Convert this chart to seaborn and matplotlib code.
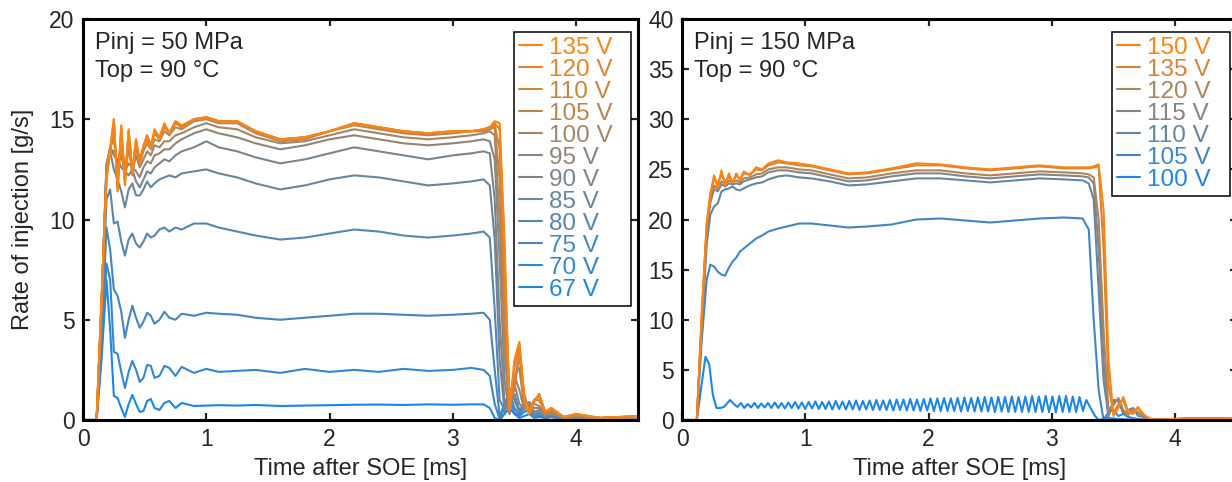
import numpy as np
import matplotlib
matplotlib.use("Agg")
import matplotlib.pyplot as plt
import seaborn as sns
from matplotlib.colors import LinearSegmentedColormap

# ── Style ────────────────────────────────────────────────────────────────────
sns.set_theme(style="ticks")
plt.rcParams["font.family"] = ["Liberation Sans", "DejaVu Sans"]

# ── Data: left panel (Pinj = 50 MPa) ─────────────────────────────────────────
T_LEFT = [0.00, 0.11, 0.15, 0.19, 0.22, 0.25, 0.28, 0.31, 0.34, 0.37,
          0.40, 0.43, 0.46, 0.49, 0.52, 0.55, 0.58, 0.62, 0.66, 0.70,
          0.75, 0.80, 0.90, 1.00, 1.10, 1.25, 1.40, 1.60, 1.80, 2.00,
          2.20, 2.40, 2.60, 2.80, 3.00, 3.15, 3.25, 3.30, 3.34, 3.38,
          3.42, 3.46, 3.50, 3.54, 3.58, 3.62, 3.66, 3.70, 3.75, 3.80,
          3.90, 4.00, 4.20, 4.50]

L135 = [0, 0, 6.0, 12.0, 13.5, 15.0, 11.4, 14.7, 11.7, 14.5,
        12.4, 14.0, 12.9, 13.7, 14.2, 13.6, 14.5, 14.1, 14.8, 14.3,
        14.9, 14.7, 15.0, 15.1, 14.9, 14.9, 14.4, 14.0, 14.1, 14.4,
        14.8, 14.6, 14.4, 14.3, 14.4, 14.4, 14.5, 14.6, 14.9, 14.8,
        9.0, 0.5, 3.0, 3.9, 1.0, 0.3, 0.9, 1.3, 0.4, 0.6,
        0.15, 0.3, 0.1, 0.2]
L120 = [0, 0, 6.0, 12.0, 13.4, 15.0, 11.5, 14.6, 11.8, 14.4,
        12.3, 14.0, 12.8, 13.6, 14.2, 13.7, 14.4, 14.1, 14.7, 14.3,
        14.9, 14.6, 15.0, 15.1, 14.9, 14.9, 14.4, 14.0, 14.1, 14.4,
        14.8, 14.6, 14.4, 14.3, 14.4, 14.4, 14.5, 14.6, 14.8, 14.5,
        8.0, 0.8, 2.6, 3.8, 1.0, 0.3, 0.9, 1.3, 0.4, 0.6,
        0.15, 0.3, 0.1, 0.2]
L110 = [0, 0, 6.0, 12.2, 13.4, 14.8, 11.6, 14.4, 12.0, 14.3,
        12.3, 13.8, 12.9, 13.6, 14.0, 13.6, 14.3, 14.0, 14.6, 14.3,
        14.8, 14.6, 15.0, 15.1, 14.9, 14.9, 14.4, 14.0, 14.1, 14.4,
        14.8, 14.6, 14.4, 14.3, 14.4, 14.4, 14.5, 14.6, 14.7, 13.5,
        7.0, 1.0, 1.5, 3.6, 1.3, 0.4, 1.0, 1.2, 0.4, 0.5,
        0.15, 0.25, 0.1, 0.2]
L105 = [0, 0, 5.8, 12.4, 13.5, 14.6, 11.8, 14.2, 12.2, 14.0,
        12.2, 13.6, 12.8, 13.4, 13.8, 13.5, 14.0, 13.9, 14.4, 14.2,
        14.6, 14.5, 14.9, 15.0, 14.8, 14.8, 14.3, 13.9, 14.0, 14.4,
        14.7, 14.5, 14.3, 14.2, 14.3, 14.4, 14.4, 14.5, 14.6, 12.0,
        5.0, 0.6, 1.8, 3.2, 1.0, 0.5, 1.0, 1.0, 0.35, 0.45,
        0.15, 0.25, 0.1, 0.15]
L100 = [0, 0, 5.8, 12.6, 13.6, 14.0, 12.4, 13.8, 12.0, 13.6,
        12.4, 13.2, 12.6, 13.0, 13.4, 13.2, 13.7, 13.6, 13.9, 13.9,
        14.2, 14.3, 14.6, 14.8, 14.6, 14.5, 14.1, 13.8, 13.9, 14.2,
        14.5, 14.3, 14.1, 14.0, 14.1, 14.2, 14.3, 14.4, 14.2, 10.0,
        3.5, 0.3, 2.2, 2.6, 0.6, 0.8, 0.8, 0.7, 0.3, 0.4,
        0.1, 0.2, 0.1, 0.15]
L95 = [0, 0, 5.6, 12.8, 13.5, 13.4, 12.8, 13.2, 12.4, 12.8,
       12.6, 12.4, 12.1, 12.6, 12.9, 12.8, 13.2, 13.3, 13.5, 13.5,
       13.8, 14.0, 14.3, 14.5, 14.3, 14.1, 13.8, 13.5, 13.7, 14.0,
       14.2, 14.0, 13.8, 13.7, 13.8, 13.9, 14.0, 13.9, 13.0, 8.0,
       2.0, 0.3, 2.2, 1.5, 0.5, 0.9, 0.6, 0.6, 0.25, 0.35,
       0.1, 0.15, 0.1, 0.15]
L90 = [0, 0, 5.5, 12.6, 13.6, 13.2, 13.0, 12.6, 12.4, 12.2,
       12.5, 11.9, 11.6, 12.0, 12.4, 12.3, 12.6, 12.8, 13.0, 12.9,
       13.2, 13.4, 13.6, 13.9, 13.6, 13.4, 13.1, 12.8, 13.0, 13.3,
       13.6, 13.4, 13.2, 13.0, 13.2, 13.3, 13.4, 13.3, 11.0, 5.0,
       0.8, 0.4, 1.8, 0.8, 0.6, 0.9, 0.4, 0.5, 0.2, 0.3,
       0.1, 0.1, 0.1, 0.15]
L85 = [0, 0, 5.2, 12.5, 13.4, 12.5, 12.0, 11.4, 10.6, 11.5,
       11.8, 11.2, 11.2, 11.5, 11.9, 11.6, 11.8, 12.0, 12.1, 12.2,
       12.1, 12.3, 12.4, 12.5, 12.3, 12.1, 11.8, 11.5, 11.7, 12.0,
       12.2, 12.1, 11.9, 11.7, 11.8, 11.9, 12.0, 11.7, 9.0, 3.0,
       0.4, 1.2, 1.3, 0.5, 0.8, 0.7, 0.3, 0.4, 0.2, 0.25,
       0.1, 0.1, 0.1, 0.15]
L80 = [0, 0, 4.5, 11.0, 11.5, 9.8, 9.9, 8.9, 8.2, 9.0,
       9.3, 8.8, 8.6, 8.9, 9.3, 9.1, 9.2, 9.5, 9.6, 9.4,
       9.6, 9.5, 9.8, 9.8, 9.6, 9.4, 9.2, 9.0, 9.1, 9.3,
       9.5, 9.4, 9.2, 9.1, 9.2, 9.3, 9.4, 9.1, 5.5, 1.0,
       0.5, 1.6, 1.0, 0.4, 0.8, 0.6, 0.2, 0.3, 0.15, 0.2,
       0.05, 0.1, 0.1, 0.15]
L75 = [0, 0, 3.8, 9.6, 8.5, 6.5, 6.2, 5.4, 4.1, 5.0,
       5.7, 5.1, 4.6, 4.9, 5.35, 5.2, 4.8, 5.0, 5.4, 5.1,
       5.0, 5.3, 5.2, 5.35, 5.3, 5.25, 5.1, 5.0, 5.1, 5.2,
       5.3, 5.3, 5.25, 5.2, 5.25, 5.3, 5.35, 5.0, 2.5, 0.2,
       0.8, 1.4, 0.6, 0.3, 0.6, 0.6, 0.2, 0.3, 0.1, 0.2,
       0.05, 0.1, 0.1, 0.15]
L70 = [0, 0, 3.3, 7.8, 7.0, 3.4, 3.3, 2.4, 1.6, 2.4,
       2.95, 2.5, 1.9, 2.1, 2.75, 2.7, 2.1, 2.2, 2.7, 2.6,
       2.2, 2.65, 2.35, 2.55, 2.4, 2.45, 2.5, 2.35, 2.55, 2.4,
       2.5, 2.4, 2.55, 2.45, 2.5, 2.6, 2.5, 2.2, 0.8, 0.05,
       0.6, 1.0, 0.4, 0.2, 0.4, 0.5, 0.15, 0.25, 0.1, 0.15,
       0.05, 0.1, 0.1, 0.15]
L67 = [0, 0, 3.0, 7.0, 4.5, 1.2, 1.1, 0.6, 0.15, 0.8,
       1.25, 0.8, 0.4, 0.45, 0.95, 1.05, 0.6, 0.5, 0.85, 0.95,
       0.6, 0.85, 0.7, 0.72, 0.74, 0.72, 0.75, 0.7, 0.72, 0.74,
       0.76, 0.77, 0.75, 0.78, 0.76, 0.78, 0.78, 0.6, 0.1, 0.0,
       0.3, 0.6, 0.3, 0.1, 0.2, 0.3, 0.1, 0.15, 0.1, 0.15,
       0.05, 0.1, 0.1, 0.15]

LEFT_LABELS = ["135 V", "120 V", "110 V", "105 V", "100 V", "95 V",
               "90 V", "85 V", "80 V", "75 V", "70 V", "67 V"]
LEFT_VALUES = [L135, L120, L110, L105, L100, L95, L90, L85, L80, L75, L70, L67]

# ── Data: right panel (Pinj = 150 MPa) ───────────────────────────────────────
T_RIGHT = [0.00, 0.12, 0.16, 0.20, 0.23, 0.26, 0.29, 0.32, 0.35, 0.38,
           0.41, 0.44, 0.47, 0.50, 0.55, 0.60, 0.65, 0.70, 0.78, 0.85,
           0.95, 1.05, 1.20, 1.35, 1.50, 1.70, 1.90, 2.10, 2.30, 2.50,
           2.70, 2.90, 3.10, 3.25, 3.30, 3.34, 3.38, 3.42, 3.46, 3.50,
           3.54, 3.58, 3.62, 3.66, 3.70, 3.75, 3.80, 3.90, 4.00, 4.20,
           4.50]

R150 = [0, 0, 10.5, 19.5, 22.5, 24.4, 23.2, 24.9, 23.4, 24.6,
        23.6, 24.6, 23.9, 24.8, 24.4, 25.2, 25.0, 25.6, 25.9, 25.7,
        25.6, 25.4, 25.0, 24.6, 24.7, 25.1, 25.6, 25.5, 25.2, 25.0,
        25.2, 25.4, 25.2, 25.2, 25.2, 25.3, 25.5, 21.0, 6.0, 0.4,
        1.2, 2.3, 0.8, 0.6, 1.3, 0.5, 0.1, 0.05, 0.1, 0.15,
        0.2]
R135 = [0, 0, 10.5, 19.6, 22.6, 24.1, 23.6, 24.5, 23.8, 24.3,
        23.8, 24.4, 24.0, 24.6, 24.5, 25.0, 24.9, 25.4, 25.7, 25.6,
        25.4, 25.3, 24.9, 24.5, 24.6, 25.0, 25.4, 25.4, 25.1, 24.9,
        25.1, 25.3, 25.1, 25.1, 25.1, 25.2, 25.3, 17.0, 3.5, 0.6,
        1.6, 2.0, 0.6, 0.8, 1.2, 0.4, 0.1, 0.05, 0.1, 0.15,
        0.2]
R120 = [0, 0, 10.0, 19.0, 22.0, 23.4, 23.0, 23.8, 23.5, 23.9,
        23.7, 23.9, 23.7, 24.1, 24.2, 24.5, 24.6, 25.0, 25.2, 25.2,
        25.0, 24.9, 24.5, 24.1, 24.2, 24.6, 24.9, 24.9, 24.6, 24.4,
        24.6, 24.8, 24.7, 24.6, 24.5, 24.2, 20.0, 9.0, 1.0, 1.5,
        2.2, 1.0, 0.5, 1.1, 0.8, 0.3, 0.1, 0.05, 0.1, 0.15,
        0.2]
R115 = [0, 0, 9.8, 18.8, 21.7, 23.0, 22.8, 23.5, 23.3, 23.6,
        23.5, 23.6, 23.5, 23.8, 24.0, 24.2, 24.3, 24.7, 24.9, 24.9,
        24.7, 24.6, 24.2, 23.8, 23.9, 24.3, 24.6, 24.6, 24.3, 24.1,
        24.3, 24.5, 24.4, 24.3, 24.2, 23.6, 17.0, 6.0, 0.5, 1.8,
        2.0, 0.8, 0.6, 1.1, 0.7, 0.3, 0.1, 0.05, 0.1, 0.15,
        0.2]
R110 = [0, 0, 9.0, 17.5, 20.5, 21.3, 21.6, 22.8, 23.0, 23.1,
        23.3, 23.0, 22.9, 23.1, 23.4, 23.6, 23.7, 24.0, 24.3, 24.4,
        24.2, 24.1, 23.8, 23.4, 23.5, 23.8, 24.1, 24.1, 23.9, 23.7,
        23.9, 24.1, 24.0, 23.9, 23.6, 22.0, 13.0, 4.0, 0.3, 2.0,
        1.9, 0.6, 1.0, 1.2, 0.4, 0.3, 0.1, 0.05, 0.1, 0.15,
        0.15]
R105 = [0, 0, 8.0, 14.0, 15.5, 15.3, 14.8, 14.5, 14.4, 15.2,
        15.8, 16.2, 16.8, 17.1, 17.6, 18.1, 18.4, 18.8, 19.1, 19.3,
        19.6, 19.6, 19.4, 19.2, 19.3, 19.5, 20.0, 20.1, 19.9, 19.7,
        19.9, 20.1, 20.2, 20.1, 19.0, 10.0, 3.0, 0.0, 0.8, 1.0,
        0.4, 0.6, 0.3, 0.2, 0.1, 0.05, 0.05, 0.05, 0.1, 0.15,
        0.15]

# 100 V at 150 MPa: needle barely lifts, the rate keeps ringing
T100_HEAD = [0.00, 0.12, 0.155, 0.19, 0.22, 0.25, 0.28, 0.31, 0.34, 0.39, 0.42]
R100_HEAD = [0, 0, 3.2, 6.3, 5.6, 2.5, 1.2, 1.2, 1.3, 2.0, 1.6]
R100_RING = [1.3, 1.7, 1.2, 1.6, 1.25, 1.7, 1.2, 1.65, 1.25, 1.7,
             1.2, 1.75, 1.2, 1.7, 1.15, 1.75, 1.2, 1.8, 1.15, 1.75,
             1.1, 1.8, 1.15, 1.85, 1.1, 1.8, 1.1, 1.85, 1.05, 1.9,
             1.1, 1.85, 1.05, 1.9, 1.05, 1.95, 1.0, 1.9, 1.05, 1.95,
             1.0, 2.0, 1.0, 1.95, 1.0, 2.0, 0.95, 2.05, 1.0, 2.05,
             0.95, 2.1, 0.95, 2.05, 0.9, 2.1, 0.95, 2.15, 0.9, 2.15,
             0.9, 2.2, 0.9, 2.15, 0.9, 2.2, 0.85, 2.25, 0.9, 2.2,
             0.85, 2.25, 0.85, 2.3, 0.85, 2.25, 0.8, 2.3, 0.85, 2.3,
             0.8, 2.35, 0.8, 2.3, 0.8, 2.35, 0.8, 2.4, 0.8, 2.35,
             0.8, 2.4, 0.8, 2.35, 0.75, 2.4, 0.8, 2.4, 0.8, 2.35,
             0.8, 2.3, 0.9, 2.0]
T100_TAIL = [3.31, 3.35, 3.38, 3.45, 3.55, 3.65, 3.80, 4.00, 4.20, 4.50]
R100_TAIL = [1.3, 0.4, 0.0, 0.2, 0.1, 0.05, 0.05, 0.1, 0.15, 0.2]

T100 = T100_HEAD + list(np.linspace(0.45, 3.28, len(R100_RING))) + T100_TAIL
R100 = R100_HEAD + R100_RING + R100_TAIL

RIGHT_LABELS = ["150 V", "135 V", "120 V", "115 V", "110 V", "105 V", "100 V"]
RIGHT_TIMES = [T_RIGHT] * 6 + [T100]
RIGHT_VALUES = [R150, R135, R120, R115, R110, R105, R100]

# orange -> grey -> blue, as in the original figure
CMAP = LinearSegmentedColormap.from_list("og_b", ["#fb8412", "#858585", "#1e87e6"])


def draw_panel(ax, times, values, labels, ylim, note, leg_x0):
    n = len(labels)
    colors = [CMAP(i / (n - 1)) for i in range(n)]
    # low voltage first so the high-voltage traces end up on top
    for i in reversed(range(n)):
        sns.lineplot(x=times[i], y=values[i], ax=ax, color=colors[i], lw=1.5,
                     label=labels[i], sort=False, estimator=None)
    handles, labs = ax.get_legend_handles_labels()
    # box stretched to the right like the MATLAB legend
    ax.legend(handles[::-1], labs[::-1], loc="upper right", mode="expand",
              bbox_to_anchor=(leg_x0, 0.3, 0.988 - leg_x0, 0.668),
              borderaxespad=0, fontsize=17.5,
              labelcolor="linecolor", frameon=True, fancybox=False,
              edgecolor="black", framealpha=1, handlelength=0.95,
              handletextpad=0.3, labelspacing=0.0, borderpad=0.2)
    ax.get_legend().get_frame().set_linewidth(1.1)

    ax.text(0.0216, 0.968, note, transform=ax.transAxes, va="top", ha="left",
            fontsize=17, linespacing=1.35)

    ax.set_xlim(0, 4.5)
    ax.set_ylim(*ylim)
    ax.set_xticks([0, 1, 2, 3, 4])
    ax.set_yticks(np.arange(0, ylim[1] + 1, 5))
    ax.tick_params(direction="in", top=True, right=True, length=5, width=1.6,
                   labelsize=16.5, pad=6)
    for sp in ax.spines.values():
        sp.set_visible(True)
        sp.set_linewidth(2.2)
        sp.set_color("black")
    ax.set_xlabel("Time after SOE [ms]", fontsize=17, labelpad=5)


fig = plt.figure(figsize=(12.32, 4.82), dpi=100)
ax1 = fig.add_axes([0.0674, 0.1286, 0.4502, 0.832])
ax2 = fig.add_axes([0.5536, 0.1286, 0.4502, 0.832])

draw_panel(ax1, [T_LEFT] * len(LEFT_VALUES), LEFT_VALUES, LEFT_LABELS, (0, 20),
           "Pinj = 50 MPa\nTop = 90 °C", 0.777)
draw_panel(ax2, RIGHT_TIMES, RIGHT_VALUES, RIGHT_LABELS, (0, 40),
           "Pinj = 150 MPa\nTop = 90 °C", 0.775)

ax1.set_ylabel("Rate of injection [g/s]", fontsize=17, labelpad=11)
ax2.set_ylabel("")

fig.savefig("out.png", dpi=100)
